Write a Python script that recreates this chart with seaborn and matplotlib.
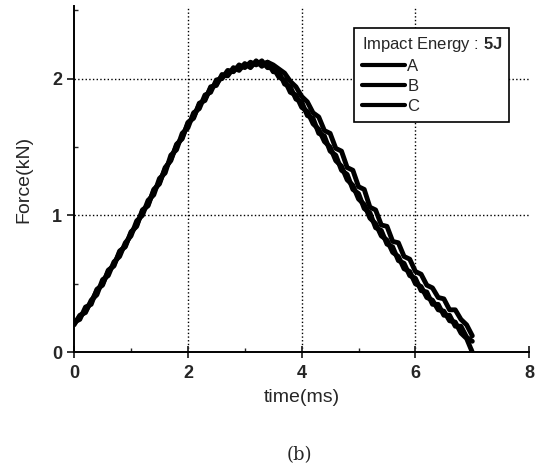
import numpy as np
import pandas as pd
import seaborn as sns
import matplotlib.pyplot as plt

# time axis (ms), shared by the three tests
time_ms = np.round(np.arange(0, 71) * 0.1, 1)

force_a = [0.20, 0.27, 0.29, 0.38, 0.42, 0.53, 0.56, 0.66, 0.70, 0.80,
           0.85, 0.96, 1.00, 1.11, 1.15, 1.27, 1.31, 1.44, 1.48, 1.60,
           1.64, 1.75, 1.78, 1.88, 1.90, 1.99, 2.00, 2.06, 2.05, 2.10,
           2.08, 2.12, 2.10, 2.13, 2.08, 2.08, 2.01, 1.99, 1.90, 1.88,
           1.79, 1.76, 1.67, 1.63, 1.54, 1.50, 1.40, 1.36, 1.26, 1.22,
           1.12, 1.08, 0.98, 0.94, 0.85, 0.82, 0.73, 0.70, 0.61, 0.59,
           0.50, 0.48, 0.40, 0.38, 0.31, 0.30, 0.23, 0.22, 0.14, 0.10,
           0.00]
force_b = [0.22, 0.24, 0.33, 0.35, 0.46, 0.49, 0.60, 0.63, 0.74, 0.77,
           0.88, 0.92, 1.04, 1.07, 1.19, 1.23, 1.35, 1.40, 1.52, 1.56,
           1.68, 1.71, 1.82, 1.84, 1.94, 1.95, 2.03, 2.02, 2.08, 2.06,
           2.11, 2.08, 2.13, 2.09, 2.12, 2.05, 2.05, 1.96, 1.94, 1.85,
           1.83, 1.73, 1.71, 1.60, 1.58, 1.47, 1.44, 1.33, 1.30, 1.19,
           1.16, 1.05, 1.02, 0.91, 0.89, 0.79, 0.77, 0.67, 0.65, 0.56,
           0.54, 0.45, 0.44, 0.35, 0.35, 0.27, 0.27, 0.19, 0.19, 0.11,
           0.08]
force_c = [0.21, 0.26, 0.30, 0.37, 0.45, 0.50, 0.59, 0.64, 0.73, 0.78,
           0.87, 0.93, 1.03, 1.08, 1.18, 1.24, 1.34, 1.41, 1.51, 1.57,
           1.67, 1.72, 1.81, 1.85, 1.93, 1.96, 2.02, 2.03, 2.07, 2.07,
           2.10, 2.09, 2.12, 2.10, 2.12, 2.10, 2.07, 2.04, 1.98, 1.94,
           1.87, 1.83, 1.75, 1.72, 1.62, 1.60, 1.49, 1.47, 1.35, 1.33,
           1.21, 1.19, 1.06, 1.04, 0.93, 0.92, 0.81, 0.80, 0.70, 0.68,
           0.59, 0.57, 0.49, 0.47, 0.40, 0.39, 0.31, 0.31, 0.24, 0.20,
           0.12]
samples = ['A', 'B', 'C']

df = pd.DataFrame({
    'time': np.tile(time_ms, 3),
    'force': force_a + force_b + force_c,
    'sample': np.repeat(samples, len(time_ms)),
})

sns.set_style('white')
plt.rcParams['font.family'] = ['Liberation Sans', 'DejaVu Sans']
plt.rcParams['mathtext.fontset'] = 'custom'
plt.rcParams['mathtext.bf'] = 'Liberation Sans:bold'
plt.rcParams['mathtext.rm'] = 'Liberation Sans'

fig = plt.figure(figsize=(5.45, 4.69), dpi=100)
ax = fig.add_axes([0.136, 0.249, 0.835, 0.738])
ax.set_axisbelow(True)

sns.lineplot(data=df, x='time', y='force', hue='sample', palette=['black'] * 3,
             estimator=None, linewidth=3.5, ax=ax)

ax.set_xlim(0, 8)
ax.set_ylim(0, 2.53)
ax.set_xticks([0, 2, 4, 6, 8])
ax.set_xticks([1, 3, 5, 7], minor=True)
ax.set_yticks([0, 1, 2])
ax.set_yticks([0.5, 1.5, 2.5], minor=True)

ax.grid(True, which='major', linestyle=':', color='black', linewidth=1)
ax.get_xgridlines()[-1].set_visible(False)
ax.get_xgridlines()[0].set_visible(False)
ax.get_ygridlines()[0].set_visible(False)

for s in ['top', 'right']:
    ax.spines[s].set_visible(False)
for s in ['left', 'bottom']:
    ax.spines[s].set_linewidth(1.4)
    ax.spines[s].set_color('black')

ax.tick_params(axis='x', which='major', direction='inout', length=8, width=1.3,
               labelsize=13, pad=5, bottom=True)
ax.tick_params(axis='y', which='major', direction='out', length=5, width=1.3,
               labelsize=13, left=True)
ax.tick_params(which='minor', direction='in', length=3, width=1, bottom=True, left=True)
for lab in ax.get_xticklabels() + ax.get_yticklabels():
    lab.set_fontweight('bold')

ax.set_xlabel('time(ms)', fontsize=14, labelpad=5)
ax.set_ylabel('Force(kN)', fontsize=14, labelpad=14)

handles, labels = ax.get_legend_handles_labels()
leg = ax.legend(handles, labels, title=r'Impact Energy : $\mathbf{5J}$',
                loc='upper right', bbox_to_anchor=(0.975, 0.962), fontsize=12,
                title_fontsize=12, frameon=True, fancybox=False, framealpha=1,
                handlelength=2.6, handletextpad=0.15, labelspacing=0.3,
                borderpad=0.45, alignment='left')
leg.get_frame().set_edgecolor('black')
leg.get_frame().set_linewidth(1.2)
leg.set_zorder(10)
for line in leg.get_lines():
    line.set_linewidth(3)

fig.text(0.55, 0.02, '(b)', fontsize=13, family='DejaVu Serif', ha='center')

plt.savefig('out.png', dpi=100)
